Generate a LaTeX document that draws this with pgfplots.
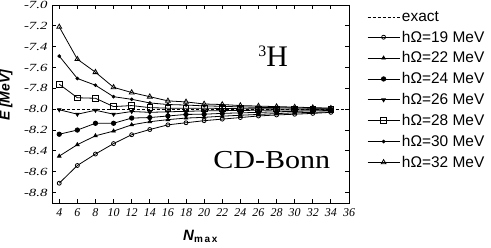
\documentclass[border=0pt]{standalone}
\usepackage{fontspec}
\setmainfont{Liberation Serif}
\setsansfont{Liberation Sans}
\usepackage{pgfplots}
\pgfplotsset{compat=1.18}
\begin{document}
\begin{tikzpicture}
\useasboundingbox (0,0) rectangle (491bp,248bp);
\begin{axis}[
  at={(52bp,45bp)}, anchor=south west,
  scale only axis, width=297bp, height=198bp,
  xmin=3.2, xmax=36, ymin=-8.9, ymax=-7.0,
  xtick={4,6,...,36},
  ytick={-8.8,-8.6,...,-7.0},
  tick align=inside, major tick length=4bp,
  tick style={black, line width=0.8pt},
  axis line style={line width=0.9pt},
  /pgf/number format/assume math mode=true,
  xticklabel style={font=\fontsize{12}{12}\selectfont\itshape, yshift=-2bp},
  yticklabel={\scalebox{1.35}[1]{\pgfmathprintnumber[fixed,fixed zerofill,precision=1]{\tick}}},
  yticklabel style={font=\fontsize{11}{11}\selectfont\itshape, xshift=-1bp},
  xlabel={\textbf{\textit{N}}\textsubscript{\fontsize{10}{10}\selectfont\bfseries m\,a\,x}},
  xlabel style={font=\sffamily\fontsize{15}{15}\selectfont, at={(axis description cs:0.5,-0.17)}, anchor=center},
  ylabel={\textbf{\textit{E [MeV]}}},
  ylabel style={font=\sffamily\fontsize{14}{14}\selectfont, at={(axis description cs:-0.155,0.545)}, anchor=center, rotate=0},
  legend style={draw=none, fill=none, at={(1,1)}, anchor=north west, xshift=18bp, yshift=-4bp,
    font=\sffamily\fontsize{15.5}{15.5}\selectfont, row sep=4.2bp, inner sep=0pt},
  legend cell align=left,
  legend image code/.code={\draw[#1] (0bp,0bp) -- (32bp,0bp) plot coordinates {(16bp,0bp)};},
  every axis plot/.append style={line width=0.8pt, black},
  clip=false,
]
\addplot[densely dashed, line width=0.7pt, mark=none] coordinates {(3.2,-8.0) (36,-8.0)};
\addlegendentry{exact}
\addplot[mark=o, mark size=2bp, mark options={fill=white}] coordinates {(4,-8.71)(6,-8.54)(8,-8.43)(10,-8.33)(12,-8.245)(14,-8.195)(16,-8.15)(18,-8.13)(20,-8.11)(22,-8.095)(24,-8.08)(26,-8.065)(28,-8.055)(30,-8.048)(32,-8.04)(34,-8.03)};
\addlegendentry{hΩ=19 MeV}
\addplot[mark=triangle*, mark size=2bp] coordinates {(4,-8.45)(6,-8.34)(8,-8.255)(10,-8.21)(12,-8.15)(14,-8.12)(16,-8.10)(18,-8.085)(20,-8.078)(22,-8.067)(24,-8.058)(26,-8.05)(28,-8.042)(30,-8.035)(32,-8.03)(34,-8.025)};
\addlegendentry{hΩ=22 MeV}
\addplot[mark=*, mark size=2.2bp] coordinates {(4,-8.24)(6,-8.20)(8,-8.135)(10,-8.135)(12,-8.085)(14,-8.08)(16,-8.065)(18,-8.05)(20,-8.048)(22,-8.04)(24,-8.035)(26,-8.03)(28,-8.025)(30,-8.02)(32,-8.016)(34,-8.012)};
\addlegendentry{hΩ=24 MeV}
\addplot[mark=triangle*, mark size=2bp, mark options={rotate=180}] coordinates {(4,-8.005)(6,-8.048)(8,-8.01)(10,-8.048)(12,-8.022)(14,-8.03)(16,-8.025)(18,-8.02)(20,-8.016)(22,-8.014)(24,-8.012)(26,-8.01)(28,-8.008)(30,-8.007)(32,-8.006)(34,-8.005)};
\addlegendentry{hΩ=26 MeV}
\addplot[mark=square, mark size=2.8bp, mark options={fill=white}] coordinates {(4,-7.76)(6,-7.89)(8,-7.895)(10,-7.975)(12,-7.965)(14,-7.985)(16,-7.99)(18,-7.99)(20,-7.99)(22,-7.993)(24,-7.995)(26,-7.996)(28,-7.997)(30,-7.998)(32,-7.998)(34,-7.999)};
\addlegendentry{hΩ=28 MeV}
\addplot[mark=*, mark size=1.4bp] coordinates {(4,-7.49)(6,-7.705)(8,-7.77)(10,-7.88)(12,-7.905)(14,-7.94)(16,-7.955)(18,-7.96)(20,-7.968)(22,-7.972)(24,-7.978)(26,-7.982)(28,-7.985)(30,-7.988)(32,-7.99)(34,-7.992)};
\addlegendentry{hΩ=30 MeV}
\addplot[mark=triangle, mark size=2.8bp, mark options={fill=white}] coordinates {(4,-7.21)(6,-7.52)(8,-7.645)(10,-7.79)(12,-7.84)(14,-7.88)(16,-7.92)(18,-7.93)(20,-7.95)(22,-7.955)(24,-7.965)(26,-7.97)(28,-7.975)(30,-7.98)(32,-7.985)(34,-7.99)};
\addlegendentry{hΩ=32 MeV}
\node[anchor=base, inner sep=0pt] at (axis description cs:0.745,0.69) {\raisebox{10bp}{\fontsize{16}{16}\selectfont 3}\fontsize{30}{30}\selectfont H};
\node[anchor=base, inner sep=0pt] at (axis description cs:0.74,0.175) {\scalebox{1.16}[1]{\fontsize{26}{26}\selectfont CD-Bonn}};
\end{axis}
\end{tikzpicture}
\end{document}
